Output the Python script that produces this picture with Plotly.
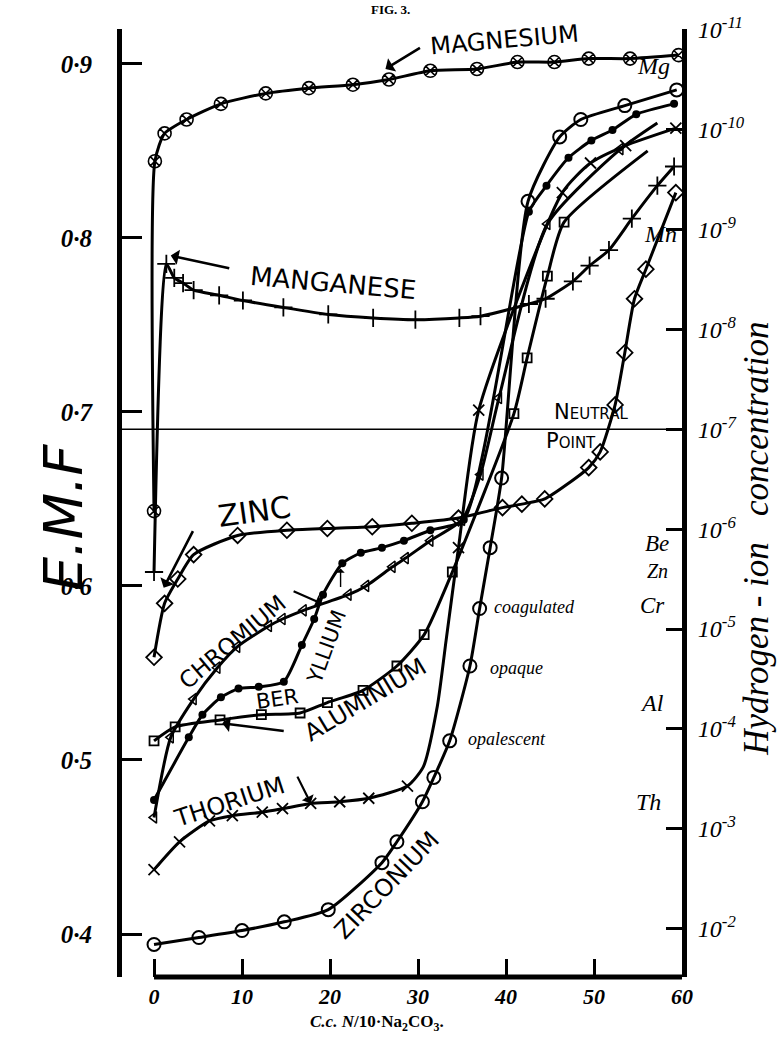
import plotly.graph_objects as go

# ---------------- data ----------------
# x: c.c. N/10 Na2CO3 added ; y: E.M.F. (volts)
mg_x = [0, 0.1, 1.2, 3.7, 7.6, 12.7, 17.6, 22.6, 26.7, 31.4, 36.7, 41.3, 45.5, 49.4, 54.1, 59.6]
mg_y = [0.643, 0.844, 0.860, 0.868, 0.877, 0.883, 0.886, 0.888, 0.891, 0.896, 0.897, 0.901, 0.901, 0.903, 0.903, 0.905]

mn_x = [0, 1.4, 2.3, 3.3, 4.5, 7.4, 10.1, 14.7, 19.8, 24.9, 29.7, 34.7, 37.1, 42.6, 44.5, 47.6, 49.5, 51.7, 54.3, 57.2, 59.1]
mn_y = [0.608, 0.785, 0.777, 0.774, 0.770, 0.767, 0.764, 0.760, 0.756, 0.754, 0.753, 0.754, 0.755, 0.762, 0.765, 0.775, 0.784, 0.793, 0.811, 0.830, 0.841]

zn_x = [0, 1.2, 2.7, 4.5, 9.5, 15.1, 19.7, 24.8, 29.3, 34.6, 39.6, 41.8, 44.4, 49.4, 50.7, 52.4, 53.5, 54.6, 55.9, 59.3]
zn_y = [0.559, 0.590, 0.604, 0.618, 0.629, 0.632, 0.633, 0.634, 0.636, 0.639, 0.645, 0.647, 0.650, 0.668, 0.677, 0.704, 0.734, 0.765, 0.782, 0.826]

be_x = [0, 3.95, 5.5, 7.6, 9.6, 11.9, 14.75, 16.8, 18.2, 19.2, 21.4, 23.5, 25.9, 28.4, 31.4, 35.2, 42.6, 44.6, 47.1, 49.7, 52.1, 54.8, 59.1]
be_y = [0.477, 0.513, 0.526, 0.536, 0.541, 0.542, 0.545, 0.566, 0.581, 0.595, 0.613, 0.619, 0.622, 0.626, 0.632, 0.638, 0.815, 0.830, 0.846, 0.856, 0.862, 0.871, 0.877]

cr_x = [0, 1.9, 4.5, 7.2, 9.45, 13.05, 14.6, 17.0, 22.1, 24.1, 27.1, 28.6, 31.4, 35.0, 37.1, 39.2, 44.7, 53.0]
cr_y = [0.467, 0.513, 0.535, 0.553, 0.565, 0.577, 0.581, 0.586, 0.595, 0.600, 0.611, 0.616, 0.626, 0.638, 0.664, 0.708, 0.808, 0.851]
cr_line_x = [57.2]          # unmarked end of the drawn curve
cr_line_y = [0.866]

al_x = [0, 2.4, 7.5, 12.2, 16.6, 19.7, 23.75, 27.6, 30.7, 33.9, 40.9, 42.4, 44.7, 46.6]
al_y = [0.511, 0.519, 0.523, 0.526, 0.527, 0.533, 0.540, 0.554, 0.572, 0.608, 0.699, 0.731, 0.778, 0.809]
al_line_x = [56.1]
al_line_y = [0.850]

th_x = [0, 2.9, 6.3, 8.9, 12.3, 14.6, 17.8, 21.1, 24.4, 28.8, 34.6, 36.9, 46.4, 49.6, 53.6, 59.3]
th_y = [0.437, 0.453, 0.465, 0.468, 0.470, 0.472, 0.475, 0.476, 0.478, 0.485, 0.622, 0.701, 0.826, 0.843, 0.853, 0.863]
th_line_x = [30.6, 32.2, 33.2]   # unmarked knee of the drawn curve
th_line_y = [0.496, 0.531, 0.569]

zr_x = [0, 5.1, 10.0, 14.8, 19.8, 25.9, 27.6, 30.5, 31.8, 33.6, 35.9, 37.0, 38.2, 39.5, 42.5, 46.1, 48.5, 53.5, 59.4]
zr_y = [0.394, 0.398, 0.402, 0.407, 0.414, 0.441, 0.453, 0.476, 0.490, 0.511, 0.554, 0.587, 0.622, 0.662, 0.821, 0.858, 0.868, 0.876, 0.885]

x_ticks = [0, 10, 20, 30, 40, 50, 60]
emf_ticks = [0.4, 0.5, 0.6, 0.7, 0.8, 0.9]
emf_labels = ["0·4", "0·5", "0·6", "0·7", "0·8", "0·9"]
h_exps = [-2, -3, -4, -5, -6, -7, -8, -9, -10, -11]   # log10 [H+]
neutral_exp = -7

# ---------------- scales ----------------
X_LO, X_HI = -3.64, 60.0
EMF_LO, EMF_HI = 0.3753, 0.9200
E_AT_1E2 = 0.403      # E.M.F. at [H+] = 10^-2
E_PER_DEC = 0.0574    # volts per decade


def to_exp(e):
    return -2 - (e - E_AT_1E2) / E_PER_DEC


fig = go.Figure()

series = [
    (mg_x, mg_y, [], [], dict(symbol="circle-x-open", size=13, line=dict(width=1.6, color="black"))),
    (mn_x, mn_y, [], [], dict(symbol="cross-thin-open", size=13, line=dict(width=1.8, color="black"))),
    (zn_x, zn_y, [], [], dict(symbol="diamond-open", size=12, line=dict(width=1.8, color="black"))),
    (be_x, be_y, [], [], dict(symbol="circle", size=8, line=dict(width=0, color="black"))),
    (cr_x, cr_y, cr_line_x, cr_line_y, dict(symbol="triangle-left-open", size=10, line=dict(width=1.5, color="black"))),
    (al_x, al_y, al_line_x, al_line_y, dict(symbol="square-open", size=9, line=dict(width=1.8, color="black"))),
    (th_x, th_y, th_line_x, th_line_y, dict(symbol="x-thin-open", size=11, line=dict(width=1.8, color="black"))),
    (zr_x, zr_y, [], [], dict(symbol="circle-open", size=13, line=dict(width=2, color="black"))),
]

for mx, my, lx, ly, mk in series:
    pts = sorted(zip(mx + lx, my + ly), key=lambda p: p[0])
    fig.add_trace(go.Scatter(
        x=[p[0] for p in pts], y=[p[1] for p in pts], mode="lines",
        line=dict(color="black", width=3, shape="spline", smoothing=0.6),
        hoverinfo="skip", showlegend=False))
    fig.add_trace(go.Scatter(
        x=mx, y=my, mode="markers", marker=dict(color="black", **mk),
        hoverinfo="skip", showlegend=False))

# neutral point line on the hydrogen-ion axis
fig.add_trace(go.Scatter(x=[X_LO, X_HI], y=[neutral_exp, neutral_exp], yaxis="y2", mode="lines",
                         line=dict(color="black", width=1.6), hoverinfo="skip", showlegend=False))

SANS = "DejaVu Sans"
SERIF = "Liberation Serif"

ann = []


def label(text, x, y, angle=0, size=22, family=SANS, style="normal", weight="normal", xanchor="center", **kw):
    ann.append(dict(text=text, x=x, y=y, xref="x", yref="y", showarrow=False, textangle=angle,
                    xanchor=xanchor, yanchor="middle",
                    font=dict(family=family, size=size, color="black", style=style, weight=weight), **kw))


def arrow(x, y, ax, ay, width=2.6, head=1, size=1.0):
    ann.append(dict(text="", x=x, y=y, xref="x", yref="y", ax=ax, ay=ay, showarrow=True,
                    arrowhead=head, arrowwidth=width, arrowsize=size, arrowcolor="black"))


label("MAGNESIUM", 39.8, 0.9138, angle=-5, size=24)
arrow(26.3, 0.897, 36, -22)
label("MANGANESE", 20.3, 0.7743, angle=5, size=26)
arrow(1.9, 0.7898, 60, 13)
label("ZINC", 11.45, 0.6428, angle=-8, size=30)
arrow(1.1, 0.599, 30, -58)
label("CHROMIUM", 8.9, 0.5678, angle=-40, size=23)
arrow(19.1, 0.5898, -30, -13, width=2.2)
label("BER", 14.0, 0.5352, angle=-8, size=21)
label("YLLIUM", 19.6, 0.565, angle=-70, size=21)
arrow(21.2, 0.610, 0, 20, width=1.4)
label("ALUMINIUM", 24.0, 0.5343, angle=-31, size=24)
arrow(7.75, 0.5211, 63, 8)
label("THORIUM", 8.6, 0.4760, angle=-18, size=24)
arrow(17.8, 0.4752, -14, -28, width=2.2)
label("ZIRCONIUM", 26.5, 0.4281, angle=-46, size=24)

label("N<span style='font-size:15px'>EUTRAL</span>", 49.7, 0.6997, size=21)
label("P<span style='font-size:15px'>OINT</span>", 47.4, 0.6830, size=21)

label("coagulated", 38.4, 0.5877, size=18, family=SERIF, style="italic", xanchor="left")
label("opaque", 37.9, 0.5527, size=18, family=SERIF, style="italic", xanchor="left")
label("opalescent", 35.4, 0.5119, size=18, family=SERIF, style="italic", xanchor="left")

for t, x, y, s in [("Mg", 56.8, 0.8989, 24), ("Mn", 57.6, 0.8024, 24), ("Be", 57.2, 0.6245, 23),
                   ("Zn", 57.2, 0.6085, 20), ("Cr", 56.6, 0.5889, 23), ("Al", 56.6, 0.5326, 24),
                   ("Th", 56.2, 0.4760, 24)]:
    label(t, x, y, size=s, family=SERIF, style="italic")

# axis titles / figure caption
ann.append(dict(text="E.M.F", x=-0.164, y=0.485, xref="paper", yref="paper", showarrow=False,
                textangle=-90, font=dict(family=SANS, size=54, color="black", style="italic", weight=300)))
ann.append(dict(text="Hydrogen\u00a0-\u00a0ion\u00a0\u00a0\u00a0concentration", x=1.170, y=0.462,
                xref="paper", yref="paper", showarrow=False, textangle=-90,
                font=dict(family=SERIF, size=35, color="black", style="italic")))
ann.append(dict(text="<i>C.c. N</i>/10·Na<sub>2</sub>CO<sub>3</sub>.", x=0.455, y=-0.048,
                xref="paper", yref="paper", showarrow=False, yanchor="middle",
                font=dict(family=SERIF, size=17, color="black", weight="bold")))
ann.append(dict(text="FIG. 3.", x=0.479, y=1.021, xref="paper", yref="paper", showarrow=False,
                yanchor="middle", font=dict(family=SERIF, size=13, color="black", weight="bold")))

fig.update_layout(
    width=783, height=1037,
    margin=dict(l=122, r=101, t=29, b=60),
    paper_bgcolor="white", plot_bgcolor="white", showlegend=False,
    annotations=ann,
    shapes=[dict(type="line", xref="x", yref="paper", x0=0, x1=X_HI, y0=0, y1=0,
                 line=dict(color="black", width=5))],
    xaxis=dict(range=[X_LO, X_HI], tickvals=x_ticks, ticktext=[str(v) for v in x_ticks],
               ticks="inside", ticklen=18, tickwidth=2.5, tickcolor="black",
               showline=False, showgrid=False, zeroline=False, ticklabelstandoff=4,
               tickfont=dict(family=SERIF, size=22, color="black", style="italic", weight="bold")),
    yaxis=dict(range=[EMF_LO, EMF_HI], tickvals=emf_ticks, ticktext=emf_labels,
               ticks="inside", ticklen=20, tickwidth=2.5, tickcolor="black",
               showline=True, linewidth=5, linecolor="black", showgrid=False, zeroline=False,
               ticklabelstandoff=20,
               tickfont=dict(family=SERIF, size=25, color="black", style="italic", weight="bold")),
    yaxis2=dict(overlaying="y", side="right", range=[to_exp(EMF_LO), to_exp(EMF_HI)],
                tickvals=h_exps, ticktext=["10<sup>%d</sup>" % e for e in h_exps],
                ticks="inside", ticklen=16, tickwidth=2.5, tickcolor="black",
                showline=True, linewidth=5, linecolor="black", showgrid=False, zeroline=False,
                ticklabelstandoff=6,
                tickfont=dict(family=SERIF, size=24, color="black", style="italic")),
)

fig.write_html("out.html")
